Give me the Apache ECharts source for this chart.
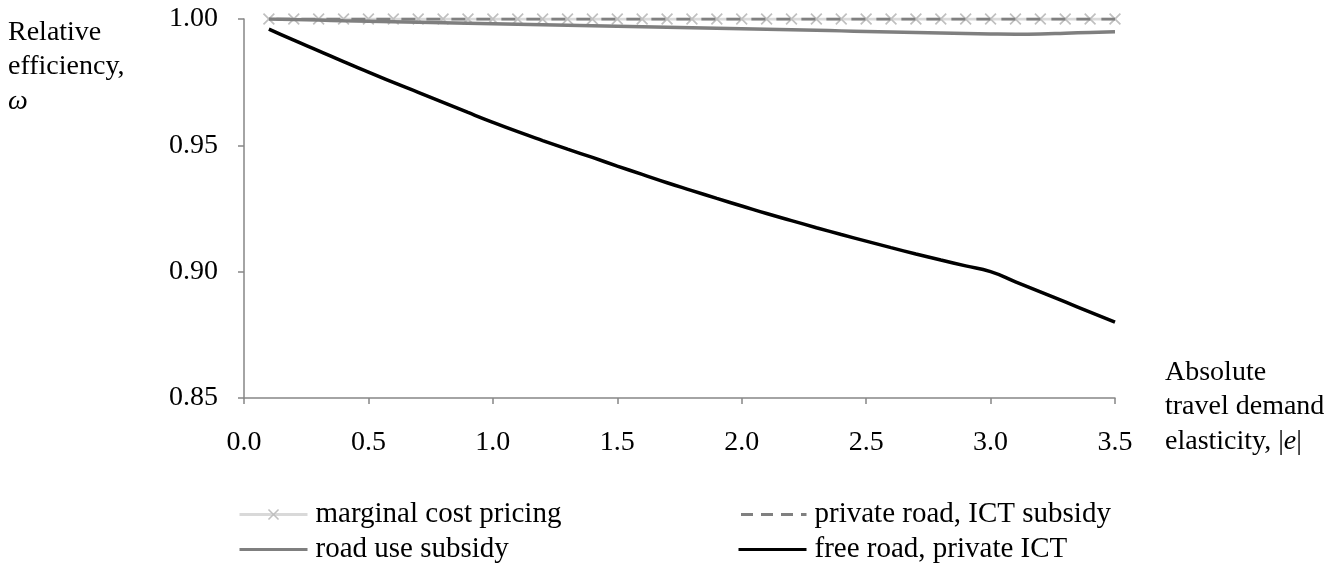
<!DOCTYPE html>
<html>
<head>
<meta charset="utf-8">
<script src="https://cdn.jsdelivr.net/npm/echarts@6/dist/echarts.min.js"></script>
<style>
html,body{margin:0;padding:0;background:#fff;}
#chart{width:1344px;height:575px;}
</style>
</head>
<body>
<div id="chart"></div>
<script>
// elasticity values |e|
var elasticity = [0.1,0.2,0.3,0.4,0.5,0.6,0.7,0.8,0.9,1.0,1.1,1.2,1.3,1.4,1.5,1.6,1.7,1.8,1.9,2.0,2.1,2.2,2.3,2.4,2.5,2.6,2.7,2.8,2.9,3.0,3.1,3.2,3.3,3.4,3.5];
var marginalCost = [1,1,1,1,1,1,1,1,1,1,1,1,1,1,1,1,1,1,1,1,1,1,1,1,1,1,1,1,1,1,1,1,1,1,1];
var privateRoadICT = [1,1,1,1,1,1,1,1,1,1,1,1,1,1,1,1,1,1,1,1,1,1,1,1,1,1,1,1,1,1,1,1,1,1,1];
var roadUseSubsidy = [1.0000,0.9998,0.9996,0.9993,0.9991,0.9989,0.9987,0.9985,0.9983,0.9981,0.9979,0.9977,0.9975,0.9973,0.9971,0.9969,0.9967,0.9965,0.9963,0.9961,0.9959,0.9957,0.9955,0.9953,0.9951,0.9949,0.9947,0.9945,0.9943,0.9941,0.9940,0.9941,0.9944,0.9947,0.9950];
var freeRoadPrivateICT = [0.9960,0.9916,0.9874,0.9831,0.9790,0.9749,0.9710,0.9670,0.9630,0.9591,0.9554,0.9519,0.9485,0.9452,0.9418,0.9385,0.9352,0.9321,0.9290,0.9260,0.9230,0.9202,0.9174,0.9147,0.9121,0.9095,0.9070,0.9046,0.9023,0.9000,0.8960,0.8920,0.8880,0.8840,0.8800];
var seriesNames = ['marginal cost pricing','private road, ICT subsidy','road use subsidy','free road, private ICT'];
var yTicks = {min:0.85, max:1.00, interval:0.05};
var xTicks = {min:0, max:3.5, interval:0.5};

function pairs(vals){ return elasticity.map(function(x,i){return [x, vals[i]];}); }

var FONT = 'Liberation Serif';
var crossPath = 'path://M0,1 L1,0 L5,4 L9,0 L10,1 L6,5 L10,9 L9,10 L5,6 L1,10 L0,9 L4,5 Z';

function legendAt(name, left, top, hideSymbol, dash){
  var item = {name:name, lineStyle:{width:3}};
  if (dash) item.lineStyle.type = [12,8];
  if (hideSymbol) item.itemStyle = {opacity:0};
  return {
    data:[item], left:left, top:top, orient:'horizontal', padding:0,
    itemWidth:68, itemHeight:14, itemGap:0,
    textStyle:{fontFamily:FONT, fontSize:29, color:'#000', padding:[0,0,0,3]},
    selectedMode:false
  };
}

var chart = echarts.init(document.getElementById('chart'), null, {renderer:'canvas'});
chart.setOption({
  animation:false,
  backgroundColor:'#fff',
  grid:{left:244, right:229, top:19, bottom:177, containLabel:false},
  xAxis:{
    type:'value', min:xTicks.min, max:xTicks.max, interval:xTicks.interval,
    axisLine:{lineStyle:{color:'#868686', width:1.5}},
    axisTick:{show:true, length:6, lineStyle:{color:'#868686', width:1.5}},
    splitLine:{show:false},
    axisLabel:{margin:31, color:'#000', fontFamily:FONT, fontSize:28,
      formatter:function(v){return v.toFixed(1);}}
  },
  yAxis:{
    type:'value', min:yTicks.min, max:yTicks.max, interval:yTicks.interval,
    axisLine:{show:true, lineStyle:{color:'#868686', width:1.5}},
    axisTick:{show:true, length:6, lineStyle:{color:'#868686', width:1.5}},
    splitLine:{show:false},
    axisLabel:{margin:26, color:'#000', fontFamily:FONT, fontSize:28,
      formatter:function(v){return v.toFixed(2);}}
  },
  legend:[
    legendAt(seriesNames[0], 238, 500, false, false),
    legendAt(seriesNames[1], 737, 500, true, true),
    legendAt(seriesNames[2], 238, 535, true, false),
    legendAt(seriesNames[3], 737, 535, true, false)
  ],
  graphic:[
    {type:'text', left:8, top:15, style:{
      text:'Relative\nefficiency,\n{i|ω}', font:'28px "Liberation Serif"', fill:'#000', lineHeight:34.5,
      rich:{i:{fontStyle:'italic', fontSize:28, fontFamily:FONT, fill:'#000', lineHeight:34.5}}
    }},
    {type:'text', left:1165, top:355, style:{
      text:'Absolute\ntravel demand\nelasticity, |{i|e}|', font:'28px "Liberation Serif"', fill:'#000', lineHeight:34.5,
      rich:{i:{fontStyle:'italic', fontSize:28, fontFamily:FONT, fill:'#000', lineHeight:34.5}}
    }}
  ],
  series:[
    {name:seriesNames[0], type:'line', z:2, data:pairs(marginalCost),
      symbol:crossPath, symbolSize:12, showAllSymbol:true,
      lineStyle:{color:'#d9d9d9', width:3},
      itemStyle:{color:'#c0c0c0'}},
    {name:seriesNames[1], type:'line', z:3, data:pairs(privateRoadICT),
      symbol:'none', lineStyle:{color:'#808080', width:3, type:[14,11], dashOffset:17.5},
      itemStyle:{color:'#808080'}},
    {name:seriesNames[2], type:'line', z:4, data:pairs(roadUseSubsidy),
      symbol:'none', smooth:true, lineStyle:{color:'#7f7f7f', width:3.5},
      itemStyle:{color:'#7f7f7f'}},
    {name:seriesNames[3], type:'line', z:5, data:pairs(freeRoadPrivateICT),
      symbol:'none', smooth:true, lineStyle:{color:'#000000', width:3.5},
      itemStyle:{color:'#000000'}}
  ]
});
</script>
</body>
</html>
